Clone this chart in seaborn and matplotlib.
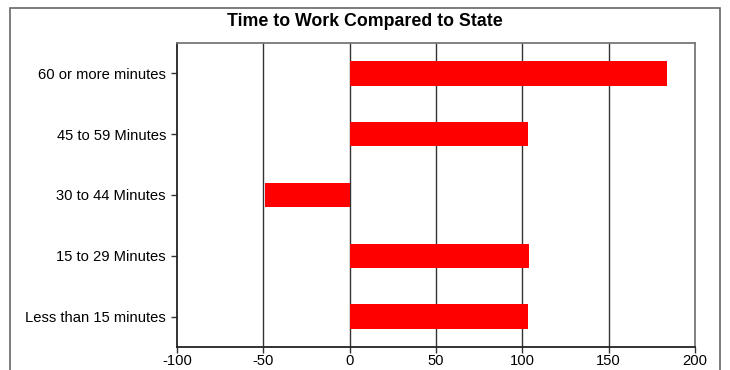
import matplotlib
matplotlib.use("Agg")
import matplotlib.pyplot as plt
import matplotlib.patches as mpatches
import seaborn as sns
import pandas as pd

# values
categories = ["60 or more minutes", "45 to 59 Minutes", "30 to 44 Minutes",
              "15 to 29 Minutes", "Less than 15 minutes"]
values = [184, 103, -49, 104, 103]
x_ticks = [-100, -50, 0, 50, 100, 150, 200]

df = pd.DataFrame({"category": categories, "value": values})

sns.set_theme(style="white")
plt.rcParams['font.family'] = ['Liberation Sans', 'DejaVu Sans']

fig = plt.figure(figsize=(7.3, 3.7), dpi=100)
ax = fig.add_axes([177/730, 1 - 347/370, 518/730, 304/370])

sns.barplot(data=df, x="value", y="category", orient="h", color="#ff0000",
            saturation=1, width=0.4, linewidth=0, ax=ax, zorder=3)

ax.set_xlim(-100, 200)
ax.set_xticks(x_ticks)
ax.set_xticklabels([str(t) for t in x_ticks])
ax.set_xlabel("")
ax.set_ylabel("")
ax.set_ylim(4.5, -0.5)

for t in x_ticks[1:-1]:
    ax.axvline(t, color="#333333", lw=1, zorder=1)

ax.tick_params(axis="both", which="both", direction="out", length=4, width=1,
               color="#333333", bottom=True, left=True, labelsize=10.6,
               labelcolor="black")
ax.tick_params(axis="x", pad=1)
ax.tick_params(axis="y", pad=4)
for side in ["left", "bottom"]:
    ax.spines[side].set_color("#222222")
    ax.spines[side].set_linewidth(1.3)
for side in ["top", "right"]:
    ax.spines[side].set_color("#777777")
    ax.spines[side].set_linewidth(1.3)

fig.text(0.5, 1 - 22/370, "Time to Work Compared to State", ha="center", va="center",
         fontsize=12.8, fontweight="bold", color="black")

# outer chart border, bottom runs past the image edge
fig.patches.append(mpatches.Rectangle((10/730, -0.05), 710/730, 1.05 - 8/370,
                                      transform=fig.transFigure, fill=False,
                                      edgecolor="#666666", lw=1.2))

fig.savefig("out.png", dpi=100)
